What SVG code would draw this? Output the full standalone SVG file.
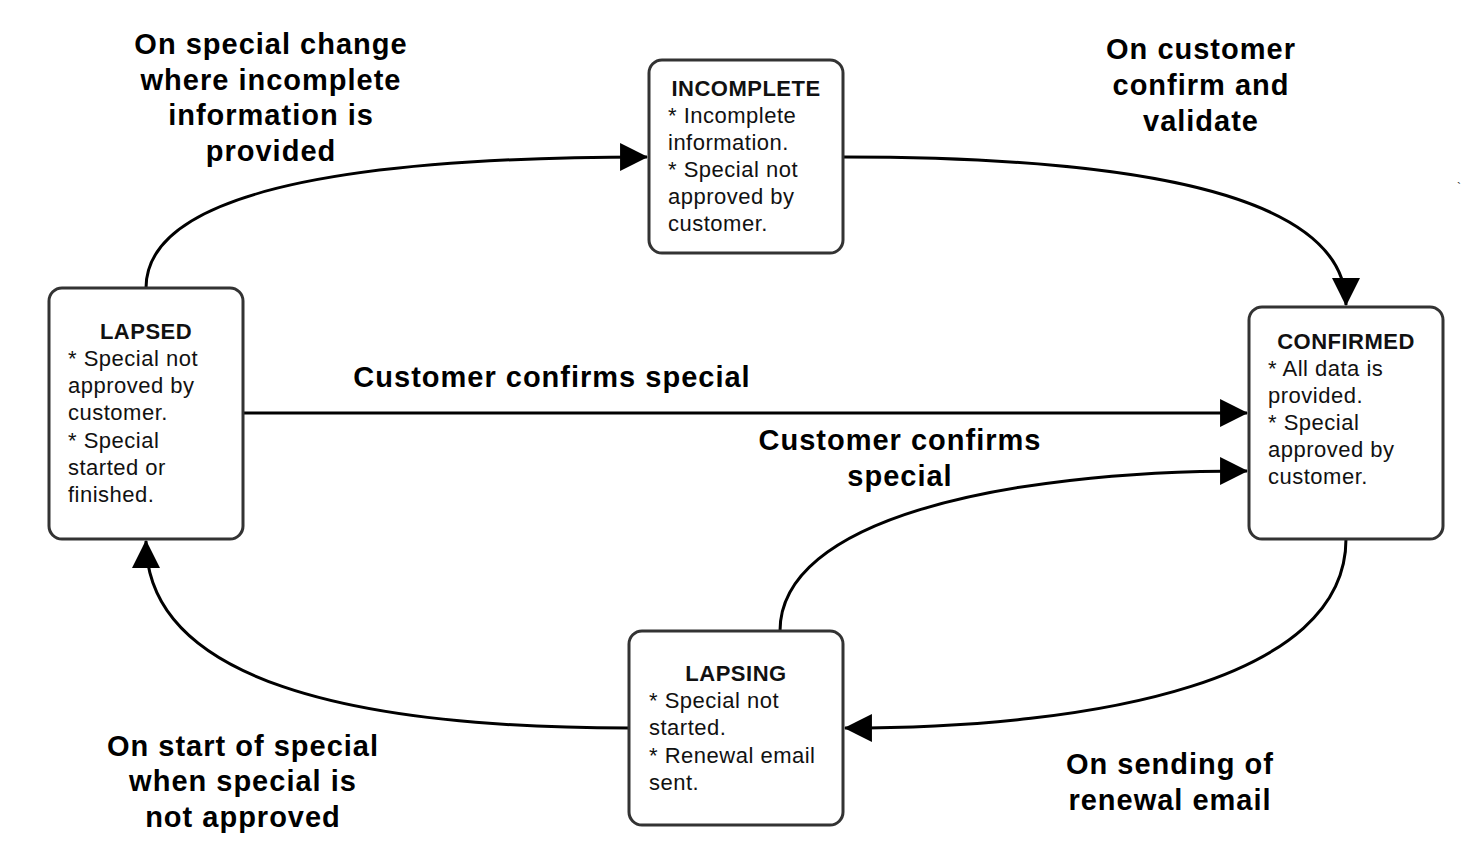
<svg xmlns="http://www.w3.org/2000/svg" width="1480" height="859" viewBox="0 0 1480 859">
<style>
.box{fill:#fff;stroke:#333;stroke-width:3}
.t{font-family:"Liberation Sans",Arial,sans-serif;font-size:22px;letter-spacing:0.5px;fill:#111}
.h{font-weight:bold;text-anchor:middle}
.e{fill:none;stroke:#000;stroke-width:3}
.l{font-family:"Liberation Sans",Arial,sans-serif;font-size:29px;letter-spacing:1px;font-weight:bold;text-anchor:middle;fill:#000}
</style>
<defs>
<marker id="arr" markerUnits="userSpaceOnUse" markerWidth="28" markerHeight="28" viewBox="0 0 26 26" refX="25" refY="13" orient="auto">
<path d="M0,0 L26,13 L0,26 Z" fill="#000"/>
</marker>
</defs>
<rect width="1480" height="859" fill="#fff"/>
<g id="connectors">
<path class="e" d="M146,288 C146,185 380,157 647,157" marker-end="url(#arr)"/>
<path class="e" d="M843,157 C1100,157 1346,185 1346,305" marker-end="url(#arr)"/>
<path class="e" d="M243,413 L1247,413" marker-end="url(#arr)"/>
<path class="e" d="M780,631 C780,520 1000,471 1247,471" marker-end="url(#arr)"/>
<path class="e" d="M1346,539 C1346,680 1100,728 845,728" marker-end="url(#arr)"/>
<path class="e" d="M629,728 C350,728 146,680 146,541" marker-end="url(#arr)"/>
</g>
<g id="edge-labels">
<text class="l" x="271" y="54">On special change</text>
<text class="l" x="271" y="90">where incomplete</text>
<text class="l" x="271" y="125">information is</text>
<text class="l" x="271" y="161">provided</text>
<text class="l" x="1201" y="59">On customer</text>
<text class="l" x="1201" y="95">confirm and</text>
<text class="l" x="1201" y="131">validate</text>
<text class="l" x="552" y="387">Customer confirms special</text>
<text class="l" x="900" y="450">Customer confirms</text>
<text class="l" x="900" y="486">special</text>
<text class="l" x="243" y="756">On start of special</text>
<text class="l" x="243" y="791">when special is</text>
<text class="l" x="243" y="827">not approved</text>
<text class="l" x="1170" y="774">On sending of</text>
<text class="l" x="1170" y="810">renewal email</text>
</g>
<g id="incomplete">
<rect class="box" x="649" y="60" width="194" height="193" rx="13"/>
<text class="t h" x="746" y="96">INCOMPLETE</text>
<text class="t" x="668" y="123">* Incomplete</text>
<text class="t" x="668" y="150">information.</text>
<text class="t" x="668" y="177">* Special not</text>
<text class="t" x="668" y="204">approved by</text>
<text class="t" x="668" y="231">customer.</text>
</g>
<g id="lapsed">
<rect class="box" x="49" y="288" width="194" height="251" rx="13"/>
<text class="t h" x="146" y="339">LAPSED</text>
<text class="t" x="68" y="366">* Special not</text>
<text class="t" x="68" y="393">approved by</text>
<text class="t" x="68" y="420">customer.</text>
<text class="t" x="68" y="448">* Special</text>
<text class="t" x="68" y="475">started or</text>
<text class="t" x="68" y="502">finished.</text>
</g>
<g id="confirmed">
<rect class="box" x="1249" y="307" width="194" height="232" rx="13"/>
<text class="t h" x="1346" y="349">CONFIRMED</text>
<text class="t" x="1268" y="376">* All data is</text>
<text class="t" x="1268" y="403">provided.</text>
<text class="t" x="1268" y="430">* Special</text>
<text class="t" x="1268" y="457">approved by</text>
<text class="t" x="1268" y="484">customer.</text>
</g>
<g id="lapsing">
<rect class="box" x="629" y="631" width="214" height="194" rx="13"/>
<text class="t h" x="736" y="681">LAPSING</text>
<text class="t" x="649" y="708">* Special not</text>
<text class="t" x="649" y="735">started.</text>
<text class="t" x="649" y="763">* Renewal email</text>
<text class="t" x="649" y="790">sent.</text>
</g>
<text x="1457" y="192" font-family="Liberation Sans,sans-serif" font-size="12" fill="#333">`</text>
</svg>
